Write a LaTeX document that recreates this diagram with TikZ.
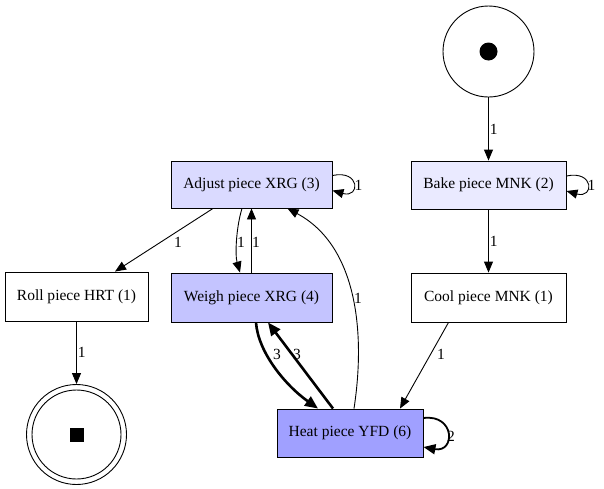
\documentclass[tikz,border=0pt]{standalone}
\usepackage{fontspec}
\setmainfont{Liberation Serif}
\usetikzlibrary{arrows.meta,calc}
\definecolor{fillbake}{RGB}{234,234,255}
\definecolor{filladjust}{RGB}{218,218,255}
\definecolor{fillweigh}{RGB}{196,196,255}
\definecolor{fillheat}{RGB}{160,160,255}
\tikzset{
  task/.style={draw, line width=0.9pt, rectangle, inner sep=0pt,
    font=\fontsize{15.5}{18}\selectfont},
  place/.style={draw, line width=0.9pt, circle, inner sep=0pt},
  arr/.style={line width=0.9pt, -{Triangle[length=11pt,width=9pt]}},
  heavy/.style={line width=2.6pt, -{Triangle[length=13pt,width=11pt]}},
  medium/.style={line width=1.8pt, -{Triangle[length=12pt,width=10pt]}},
  lbl/.style={inner sep=1pt, font=\fontsize{15.5}{18}\selectfont},
}
\begin{document}
\begin{tikzpicture}[x=1pt,y=-1pt]
\useasboundingbox (0,0) rectangle (604,488);

% places
\node[place, minimum size=91pt] (start) at (488.5,51.5) {};
\node[circle, fill, inner sep=0pt, minimum size=18pt] (startdot) at (start) {};
\node[place, minimum size=100pt] (end) at (76.5,434.5) {};
\node[place, minimum size=89pt] (endinner) at (end) {};
\node[fill, inner sep=0pt, minimum size=14pt] (endmark) at (end) {};

% transitions
\node[task, fill=fillbake, minimum width=155pt, minimum height=48pt] (bake) at (488.5,185) {Bake piece MNK (2)};
\node[task, fill=filladjust, minimum width=161pt, minimum height=47pt] (adjust) at (251.5,184.5) {Adjust piece XRG (3)};
\node[task, fill=fillweigh, minimum width=161pt, minimum height=49pt] (weigh) at (251.5,297.5) {Weigh piece XRG (4)};
\node[task, fill=white, minimum width=143pt, minimum height=49pt] (roll) at (76.5,296.5) {Roll piece HRT (1)};
\node[task, fill=white, minimum width=155pt, minimum height=49pt] (cool) at (488.5,297.5) {Cool piece MNK (1)};
\node[task, fill=fillheat, minimum width=146pt, minimum height=48pt] (heat) at (350,433) {Heat piece YFD (6)};

% arcs
\draw[arr] (start) -- (bake) node[lbl, midway, right] (l1) {1};
\draw[arr] ($(bake.east)+(0,-9)$) .. controls +(28,-6) and +(28,8) .. ($(bake.east)+(0,6)$);
\node[lbl] (l2) at ($(bake.east)+(25,0)$) {1};
\draw[arr] (bake) -- (cool) node[lbl, midway, right] (l3) {1};
\draw[arr] ($(cool.south)+(-40,0)$) -- ($(heat.north)+(50,0)$);
\node[lbl] (l4) at (441,354) {1};

\draw[arr] ($(adjust.south)+(-38.5,0)$) -- ($(roll.north)+(38.5,0)$);
\node[lbl] (l5) at (178,242) {1};
\draw[arr] ($(adjust.east)+(0,-9)$) .. controls +(28,-6) and +(28,8) .. ($(adjust.east)+(0,6)$);
\node[lbl] (l6) at ($(adjust.east)+(26,1)$) {1};
\draw[arr] ($(adjust.south)+(-9.5,0)$) .. controls (236,228) and (235,255) .. ($(weigh.north)+(-11.5,0)$);
\node[lbl] (l7) at (241,242) {1};
\draw[arr] (weigh.north) -- (adjust.south);
\node[lbl] (l8) at (256,242) {1};

\draw[heavy] ($(weigh.south)+(4.5,0)$) .. controls (258,352) and (285,385) .. ($(heat.north)+(-32,0)$);
\node[lbl] (l9) at (277,354) {3};
\draw[heavy] ($(heat.north)+(-17,0)$) -- ($(weigh.south)+(16.5,0)$);
\node[lbl] (l10) at (297,354) {3};
\draw[arr] ($(heat.north)+(4,0)$) .. controls (366,330) and (356,245) .. ($(adjust.south)+(36,0)$);
\node[lbl] (l11) at (358,298) {1};
\draw[medium] ($(heat.east)+(0,-15)$) .. controls +(32,-4) and +(32,6) .. ($(heat.east)+(0,14)$);
\node[lbl] (l12) at (451,436) {2};

\draw[arr] (roll) -- (end) node[lbl, midway, right] (l13) {1};
\end{tikzpicture}
\end{document}
